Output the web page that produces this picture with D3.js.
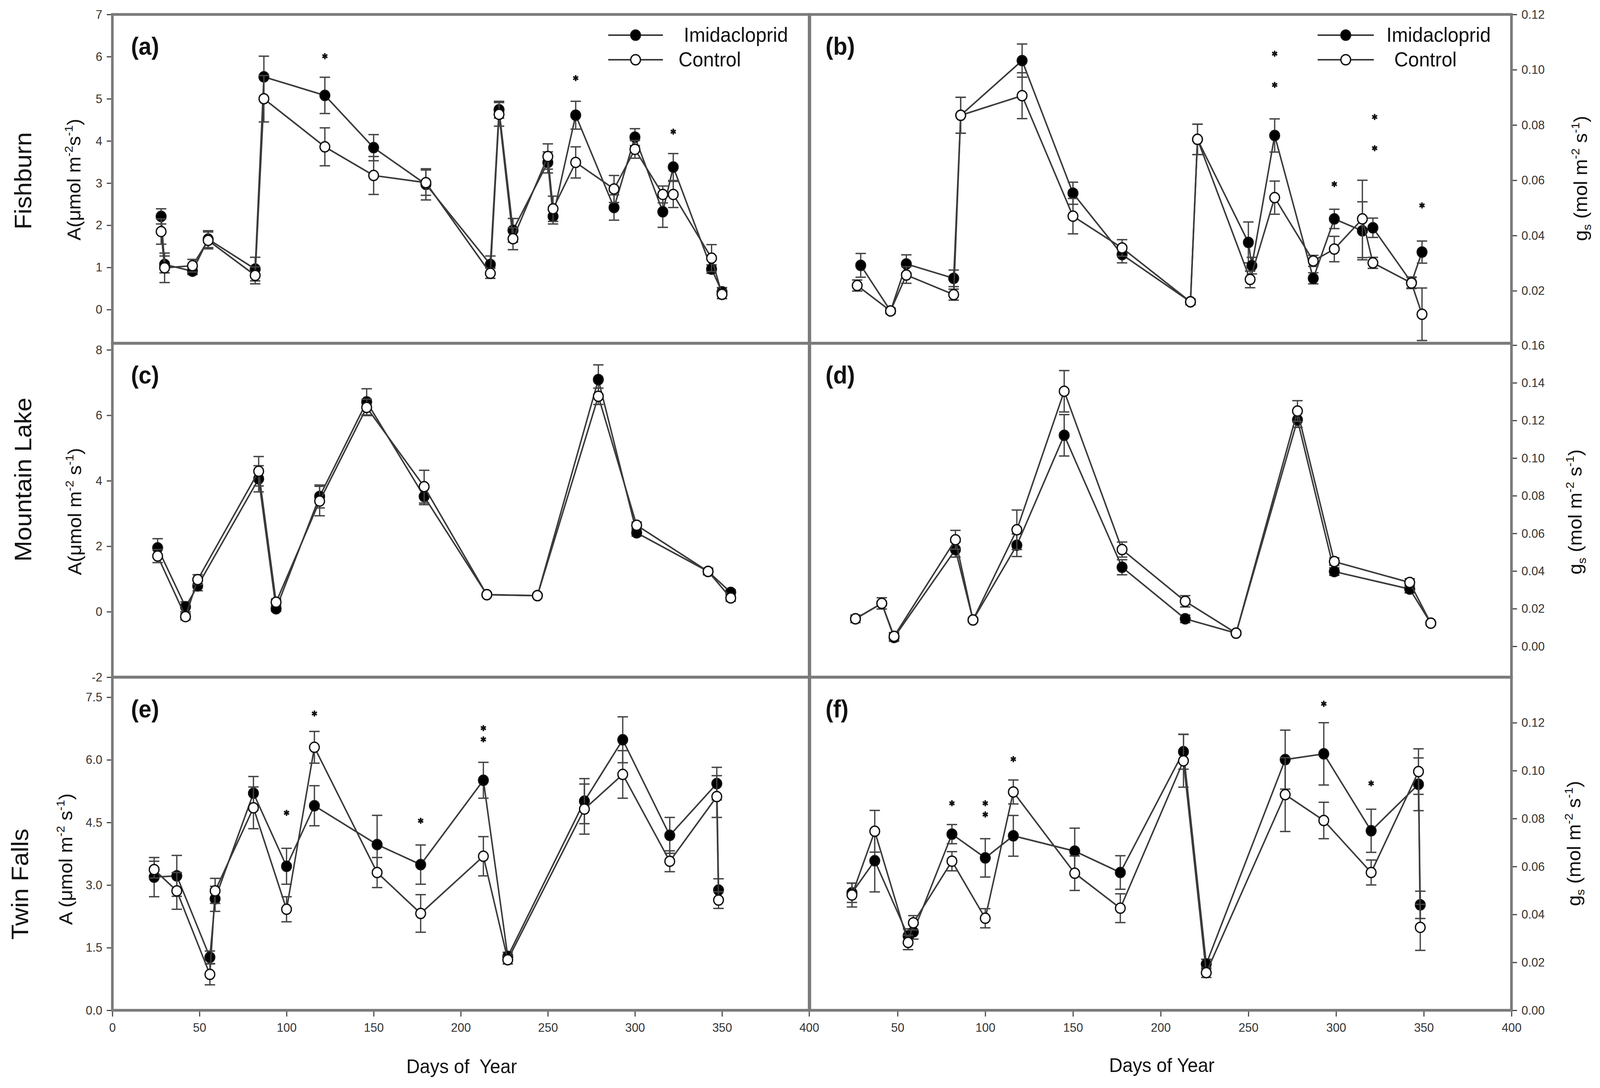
<!DOCTYPE html>
<html>
<head>
<meta charset="utf-8">
<script src="https://cdn.jsdelivr.net/npm/d3@7"></script>
<style>
  html, body { margin: 0; padding: 0; background: #fff; overflow: hidden; }
  svg { display: block; }
  text { font-family: "Liberation Sans", Arial, sans-serif; }
</style>
</head>
<body>
<div id="chart"></div>
<script>
// ---- data ----
var seriesNames = ['Imidacloprid', 'Control'];
var rowNames = ['Fishburn', 'Mountain Lake', 'Twin Falls'];

// (a) Fishburn, A
var daysA = [28, 30, 46, 55, 82, 87, 122, 150, 180, 217, 222, 230, 250, 253, 266, 288, 300, 316, 322, 344, 350];
var valA_imi = [2.21, 1.07, 0.91, 1.67, 0.96, 5.52, 5.08, 3.84, 2.97, 1.07, 4.74, 1.88, 3.49, 2.21, 4.61, 2.42, 4.09, 2.32, 3.38, 0.96, 0.42];
var errA_imi = [0.18, 0.2, 0.08, 0.2, 0.28, 0.49, 0.43, 0.31, 0.37, 0.2, 0.2, 0.28, 0.25, 0.18, 0.33, 0.3, 0.2, 0.37, 0.32, 0.1, 0.1];
var valA_ctl = [1.85, 0.99, 1.04, 1.64, 0.81, 5.0, 3.86, 3.18, 3.01, 0.86, 4.63, 1.68, 3.63, 2.39, 3.49, 2.86, 3.80, 2.73, 2.73, 1.22, 0.36];
var errA_ctl = [0.3, 0.35, 0.15, 0.2, 0.2, 0.55, 0.45, 0.45, 0.3, 0.12, 0.28, 0.26, 0.3, 0.3, 0.37, 0.32, 0.21, 0.2, 0.31, 0.32, 0.1];
var starsA = [[122, 6.01], [266, 5.49], [322, 4.22]];

// (b) Fishburn, gs
var daysB_imi = [29, 46, 55, 82, 86, 121, 150, 178, 217, 221, 250, 252, 265, 287, 299, 315, 321, 343, 349];
var valB_imi = [0.0292, 0.0127, 0.0297, 0.0245, 0.0835, 0.1033, 0.0553, 0.0331, 0.0160, 0.0748, 0.0375, 0.0291, 0.0762, 0.0245, 0.0460, 0.0417, 0.0428, 0.0230, 0.0340];
var errB_imi = [0.0043, 0.001, 0.0033, 0.003, 0.0065, 0.006, 0.004, 0.003, 0.001, 0.0055, 0.0074, 0.003, 0.006, 0.002, 0.0035, 0.0105, 0.0035, 0.002, 0.004];
var daysB_ctl = [27, 46, 55, 82, 86, 121, 150, 178, 217, 221, 251, 265, 287, 299, 315, 321, 343, 349];
var valB_ctl = [0.0219, 0.0127, 0.0257, 0.0186, 0.0835, 0.0906, 0.0470, 0.0355, 0.0160, 0.0748, 0.0241, 0.0537, 0.0308, 0.0351, 0.0460, 0.0301, 0.0228, 0.0115];
var errB_ctl = [0.002, 0.001, 0.003, 0.002, 0.0065, 0.0083, 0.0064, 0.003, 0.001, 0.0055, 0.003, 0.006, 0.002, 0.0046, 0.014, 0.002, 0.002, 0.0095];
var starsB = [[265, 0.1058], [265, 0.0945], [299, 0.0586], [322, 0.0829], [322, 0.0716], [349, 0.0509]];

// (c) Mountain Lake, A
var daysC = [26, 42, 49, 84, 94, 119, 146, 179, 215, 244, 279, 301, 342, 355];
var valC_imi = [1.95, 0.15, 0.79, 4.06, 0.09, 3.52, 6.41, 3.52, 0.52, 0.49, 7.09, 2.41, 1.23, 0.59];
var errC_imi = [0.28, 0.15, 0.15, 0.4, 0.08, 0.35, 0.4, 0.25, 0.05, 0.05, 0.45, 0.1, 0.1, 0.08];
var valC_ctl = [1.70, -0.15, 0.98, 4.29, 0.29, 3.38, 6.24, 3.82, 0.52, 0.49, 6.58, 2.64, 1.23, 0.42];
var errC_ctl = [0.2, 0.1, 0.15, 0.45, 0.1, 0.45, 0.25, 0.5, 0.05, 0.05, 0.25, 0.1, 0.1, 0.1];
var starsC = [];

// (d) Mountain Lake, gs
var daysD = [26, 41, 48, 83, 93, 118, 145, 178, 214, 243, 278, 299, 342, 354];
var valD_imi = [0.0146, 0.0228, 0.0047, 0.0514, 0.0140, 0.0537, 0.1121, 0.0420, 0.0146, 0.0070, 0.1203, 0.0397, 0.0304, 0.0123];
var errD_imi = [0.001, 0.001, 0.002, 0.004, 0.001, 0.006, 0.011, 0.004, 0.002, 0.001, 0.004, 0.002, 0.002, 0.001];
var valD_ctl = [0.0146, 0.0228, 0.0053, 0.0566, 0.0140, 0.0619, 0.1355, 0.0514, 0.0239, 0.0070, 0.1250, 0.0450, 0.0339, 0.0123];
var errD_ctl = [0.002, 0.003, 0.002, 0.005, 0.001, 0.0105, 0.011, 0.004, 0.003, 0.001, 0.0055, 0.002, 0.002, 0.001];
var starsD = [];

// (e) Twin Falls, A
var daysE = [24, 37, 56, 59, 81, 100, 116, 152, 177, 213, 227, 271, 293, 320, 347, 348];
var valE_imi = [3.19, 3.22, 1.27, 2.67, 5.20, 3.45, 4.90, 3.97, 3.49, 5.51, 1.29, 5.01, 6.48, 4.19, 5.43, 2.88];
var errE_imi = [0.47, 0.49, 0.15, 0.3, 0.4, 0.43, 0.48, 0.7, 0.47, 0.43, 0.1, 0.54, 0.55, 0.43, 0.39, 0.27];
var valE_ctl = [3.37, 2.86, 0.86, 2.86, 4.85, 2.42, 6.30, 3.30, 2.32, 3.69, 1.21, 4.82, 5.65, 3.57, 5.12, 2.64];
var errE_ctl = [0.2, 0.44, 0.25, 0.3, 0.5, 0.3, 0.38, 0.36, 0.45, 0.47, 0.1, 0.6, 0.57, 0.25, 0.5, 0.2];
var starsE = [[100, 4.73], [116, 7.11], [177, 4.54], [213, 6.76], [213, 6.49]];

// (f) Twin Falls, gs
var daysF = [24, 37, 56, 59, 81, 100, 116, 151, 177, 213, 226, 271, 293, 320, 347, 348];
var valF_imi = [0.0490, 0.0624, 0.0310, 0.0327, 0.0735, 0.0636, 0.0728, 0.0664, 0.0575, 0.1079, 0.0193, 0.1046, 0.1070, 0.0749, 0.0943, 0.0440];
var errF_imi = [0.004, 0.013, 0.003, 0.003, 0.004, 0.008, 0.0085, 0.0096, 0.007, 0.0073, 0.002, 0.0123, 0.013, 0.009, 0.011, 0.0057];
var valF_ctl = [0.0481, 0.0747, 0.0283, 0.0365, 0.0622, 0.0384, 0.0911, 0.0572, 0.0426, 0.1041, 0.0157, 0.0900, 0.0792, 0.0575, 0.0996, 0.0346];
var errF_ctl = [0.005, 0.0087, 0.003, 0.003, 0.004, 0.004, 0.005, 0.0072, 0.006, 0.011, 0.002, 0.0154, 0.0076, 0.0052, 0.0095, 0.0096];
var starsF = [[81, 0.0864], [100, 0.0864], [100, 0.0817], [116, 0.1048], [293, 0.1279], [320, 0.0947]];

// tick values
var ticksA = [0, 1, 2, 3, 4, 5, 6, 7];
var ticksB = [0.02, 0.04, 0.06, 0.08, 0.10, 0.12];
var ticksC = [-2, 0, 2, 4, 6, 8];
var ticksD = [0, 0.02, 0.04, 0.06, 0.08, 0.10, 0.12, 0.14, 0.16];
var ticksE = [0, 1.5, 3, 4.5, 6, 7.5];
var ticksF = [0, 0.02, 0.04, 0.06, 0.08, 0.10, 0.12];
var dayTicksLeft = [0, 50, 100, 150, 200, 250, 300, 350, 400];
var dayTicksRight = [50, 100, 150, 200, 250, 300, 350, 400];

// ---- layout ----
var W = 4301, H = 2786;
var colX = [[302, 2175], [2177, 4063]];
var rowY = [[37, 879], [879, 1734], [1734, 2587]];

// fill the whole viewport with the 4301x2786 drawing
var svg = d3.select('#chart').append('svg')
    .attr('viewBox', '0 0 ' + W + ' ' + H)
    .attr('preserveAspectRatio', 'none')
    .style('width', '100vw')
    .style('height', '100vh');
svg.append('rect').attr('width', W).attr('height', H).attr('fill', '#fff');

function series(days, vals, errs) {
    return days.map(function (d, i) { return {day: d, v: vals[i], e: errs[i]}; });
}

var fmtInt = function (d) { return String(d); };
var fmt1 = d3.format('.1f');
var fmt2 = d3.format('.2f');

var labA = [['A(\u03bcmol m', 0], ['-2', 'sup'], ['s', 0], ['-1', 'sup'], [')', 0]];
var labC = [['A(\u03bcmol m', 0], ['-2', 'sup'], [' s', 0], ['-1', 'sup'], [')', 0]];
var labE = [['A (\u03bcmol m', 0], ['-2', 'sup'], [' s', 0], ['-1', 'sup'], [')', 0]];
var labG = [['g', 0], ['s', 'sub'], [' (mol m', 0], ['-2', 'sup'], [' s', 0], ['-1', 'sup'], [')', 0]];

var panels = [
    {tag: '(a)', col: 0, row: 0, dom: [-0.8, 7], ticks: ticksA, fmt: fmtInt,
     imi: series(daysA, valA_imi, errA_imi), ctl: series(daysA, valA_ctl, errA_ctl), stars: starsA,
     ylab: labA, ylx: 216, yly: 460, legend: {x0: 1635, x1: 1782, t1: 1838, t2: 1824}},
    {tag: '(b)', col: 1, row: 0, dom: [0.001, 0.12], ticks: ticksB, fmt: fmt2,
     imi: series(daysB_imi, valB_imi, errB_imi), ctl: series(daysB_ctl, valB_ctl, errB_ctl), stars: starsB,
     ylab: labG, ylx: 4266, yly: 457, legend: {x0: 3542, x1: 3693, t1: 3727, t2: 3748}},
    {tag: '(c)', col: 0, row: 1, dom: [-2, 8.2], ticks: ticksC, fmt: fmtInt,
     imi: series(daysC, valC_imi, errC_imi), ctl: series(daysC, valC_ctl, errC_ctl), stars: starsC,
     ylab: labC, ylx: 218, yly: 1310},
    {tag: '(d)', col: 1, row: 1, dom: [-0.0164, 0.161], ticks: ticksD, fmt: fmt2,
     imi: series(daysD, valD_imi, errD_imi), ctl: series(daysD, valD_ctl, errD_ctl), stars: starsD,
     ylab: labG, ylx: 4252, yly: 1311},
    {tag: '(e)', col: 0, row: 2, dom: [0, 7.98], ticks: ticksE, fmt: fmt1,
     imi: series(daysE, valE_imi, errE_imi), ctl: series(daysE, valE_ctl, errE_ctl), stars: starsE,
     ylab: labE, ylx: 194, yly: 2200, xticks: dayTicksLeft},
    {tag: '(f)', col: 1, row: 2, dom: [0, 0.139], ticks: ticksF, fmt: fmt2,
     imi: series(daysF, valF_imi, errF_imi), ctl: series(daysF, valF_ctl, errF_ctl), stars: starsF,
     ylab: labG, ylx: 4248, yly: 2160, xticks: dayTicksRight}
];

var LINE = '#3a3a3a', FRAME = '#7a7a7a';
var R = 13, CAP = 14;

function richText(sel, parts, size) {
    var shift = 0;
    parts.forEach(function (p) {
        var target = p[1] === 'sup' ? -0.42 * size : (p[1] === 'sub' ? 0.22 * size : 0);
        var t = sel.append('tspan').text(p[0]).attr('dy', target - shift);
        if (p[1]) t.attr('font-size', Math.round(size * 0.62));
        shift = target;
    });
}

function styleAxis(g) {
    g.select('.domain').remove();
    g.selectAll('.tick line').attr('stroke', '#444').attr('stroke-width', 3);
    g.selectAll('.tick text').attr('font-size', 32).attr('fill', '#333')
        .style('font-family', '"Liberation Sans", Arial, sans-serif');
}

function drawSeries(g, data, x, y, filled) {
    var line = d3.line()
        .x(function (d) { return x(d.day); })
        .y(function (d) { return y(d.v); });
    g.append('path')
        .datum(data)
        .attr('d', line)
        .attr('fill', 'none')
        .attr('stroke', LINE)
        .attr('stroke-width', 4);

    var eb = g.append('g').attr('stroke', '#444').attr('stroke-width', 3.5);
    data.forEach(function (d) {
        var cx = x(d.day), top = y(d.v + d.e), bot = y(d.v - d.e);
        eb.append('line').attr('x1', cx).attr('x2', cx).attr('y1', top).attr('y2', bot);
        eb.append('line').attr('x1', cx - CAP).attr('x2', cx + CAP).attr('y1', top).attr('y2', top);
        eb.append('line').attr('x1', cx - CAP).attr('x2', cx + CAP).attr('y1', bot).attr('y2', bot);
    });

    g.selectAll(null)
        .data(data)
        .enter()
        .append('circle')
        .attr('cx', function (d) { return x(d.day); })
        .attr('cy', function (d) { return y(d.v); })
        .attr('r', R)
        .attr('fill', filled ? '#000' : '#fff')
        .attr('stroke', '#111')
        .attr('stroke-width', 3.5);
}

panels.forEach(function (p) {
    var x0 = colX[p.col][0], x1 = colX[p.col][1];
    var y0 = rowY[p.row][0], y1 = rowY[p.row][1];
    var x = d3.scaleLinear().domain([0, 400]).range([x0, x1]);
    var y = d3.scaleLinear().domain(p.dom).range([y1, y0]);
    var g = svg.append('g');

    // y axis
    var ax = (p.col === 0 ? d3.axisLeft(y) : d3.axisRight(y))
        .tickValues(p.ticks).tickFormat(p.fmt).tickSize(15).tickPadding(12);
    g.append('g')
        .attr('transform', 'translate(' + (p.col === 0 ? x0 : x1) + ',0)')
        .call(ax)
        .call(styleAxis);

    // x axis, bottom row only
    if (p.xticks) {
        g.append('g')
            .attr('transform', 'translate(0,' + y1 + ')')
            .call(d3.axisBottom(x).tickValues(p.xticks).tickFormat(fmtInt).tickSize(16).tickPadding(16))
            .call(styleAxis);
    }

    drawSeries(g, p.imi, x, y, true);
    drawSeries(g, p.ctl, x, y, false);

    // significance marks
    g.selectAll(null)
        .data(p.stars)
        .enter()
        .append('path')
        .attr('transform', function (d) { return 'translate(' + x(d[0]) + ',' + y(d[1]) + ')'; })
        .attr('d', d3.symbol().type(d3.symbolAsterisk).size(170))
        .attr('fill', 'none')
        .attr('stroke', '#111')
        .attr('stroke-width', 4);

    // frame
    g.append('rect')
        .attr('x', x0).attr('y', y0)
        .attr('width', x1 - x0).attr('height', y1 - y0)
        .attr('fill', 'none')
        .attr('stroke', FRAME)
        .attr('stroke-width', 7);

    // panel tag
    g.append('text')
        .attr('x', x0 + (p.col === 0 ? 50 : 42))
        .attr('y', y0 + 103)
        .attr('font-size', 62)
        .attr('font-weight', 'bold')
        .attr('fill', '#111')
        .text(p.tag);

    // y label
    var yl = g.append('text')
        .attr('transform', 'translate(' + p.ylx + ',' + p.yly + ') rotate(-90)')
        .attr('text-anchor', 'middle')
        .attr('font-size', 50)
        .attr('fill', '#111');
    richText(yl, p.ylab, 50);

    // legend
    if (p.legend) {
        var L = p.legend, xm = (L.x0 + L.x1) / 2;
        [[90, 107, L.t1, true], [153, 170, L.t2, false]].forEach(function (row, i) {
            g.append('line')
                .attr('x1', L.x0).attr('x2', L.x1).attr('y1', row[0]).attr('y2', row[0])
                .attr('stroke', LINE).attr('stroke-width', 4);
            g.append('circle')
                .attr('cx', xm).attr('cy', row[0]).attr('r', R)
                .attr('fill', row[3] ? '#000' : '#fff')
                .attr('stroke', '#111').attr('stroke-width', 3.5);
            g.append('text')
                .attr('x', row[2]).attr('y', row[1])
                .attr('font-size', 52)
                .attr('fill', '#111')
                .text(seriesNames[i]);
        });
    }
});

// row titles
var rowCenters = [463, 1228, 2264];
rowNames.forEach(function (name, i) {
    svg.append('text')
        .attr('transform', 'translate(' + (i === 2 ? 76 : 84) + ',' + rowCenters[i] + ') rotate(-90)')
        .attr('text-anchor', 'middle')
        .attr('font-size', 64)
        .attr('fill', '#111')
        .text(name);
});

// x titles
svg.append('text')
    .attr('x', 1241).attr('y', 2748)
    .attr('text-anchor', 'middle')
    .attr('font-size', 50)
    .attr('fill', '#111')
    .style('white-space', 'pre')
    .text('Days of  Year');
svg.append('text')
    .attr('x', 3123).attr('y', 2745)
    .attr('text-anchor', 'middle')
    .attr('font-size', 50)
    .attr('fill', '#111')
    .text('Days of Year');
</script>
</body>
</html>
